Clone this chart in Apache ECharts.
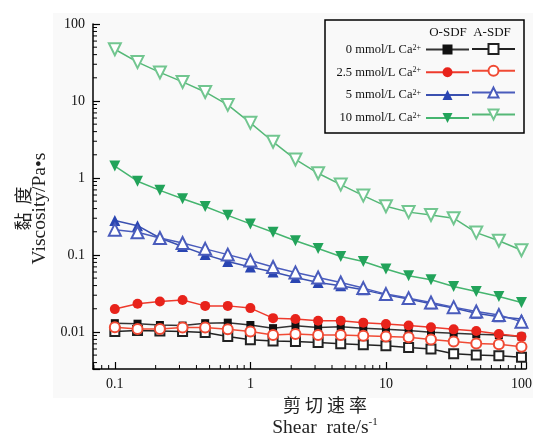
<!DOCTYPE html>
<html><head><meta charset="utf-8">
<script src="https://cdn.jsdelivr.net/npm/echarts@6/dist/echarts.min.js"></script>
<style>html,body{margin:0;padding:0;background:#fff}#c{width:533px;height:434px}</style>
</head><body><div id="c"></div>
<script>
// Shear rate (s^-1)
const shearRate = [0.1,0.147,0.215,0.316,0.464,0.681,1,1.47,2.15,3.16,4.64,6.81,10,14.7,21.5,31.6,46.4,68.1,100];
const concLabels = ['0','2.5','5','10'];
// Viscosity (Pa·s)
const oSDF_0   = [0.0130,0.0128,0.0123,0.0121,0.0130,0.0132,0.0123,0.0112,0.0120,0.0114,0.0117,0.0112,0.0108,0.0104,0.0099,0.0096,0.0093,0.0091,0.0087];
const aSDF_0   = [0.0101,0.0104,0.0103,0.0101,0.0098,0.0087,0.0079,0.0076,0.0075,0.0073,0.0070,0.0068,0.0066,0.0063,0.0060,0.0052,0.0050,0.0049,0.0047];
const oSDF_2_5 = [0.0198,0.0232,0.0248,0.0260,0.0218,0.0218,0.0204,0.0151,0.0147,0.0140,0.0140,0.0132,0.0127,0.0121,0.0115,0.0108,0.0103,0.0094,0.0087];
const aSDF_2_5 = [0.0115,0.0109,0.0109,0.0114,0.0114,0.0108,0.0101,0.0091,0.0094,0.0091,0.0091,0.0089,0.0087,0.0085,0.0080,0.0075,0.0071,0.0069,0.0064];
const oSDF_5   = [0.280,0.240,0.166,0.129,0.101,0.0824,0.0697,0.0600,0.0510,0.0439,0.0398,0.0352,0.0303,0.0267,0.0232,0.0204,0.0175,0.0158,0.0147];
const aSDF_5   = [0.213,0.197,0.166,0.143,0.120,0.101,0.0849,0.0697,0.0593,0.0510,0.0439,0.0371,0.0310,0.0275,0.0241,0.0210,0.0184,0.0166,0.0136];
const oSDF_10  = [1.43,0.908,0.69,0.537,0.426,0.327,0.253,0.197,0.153,0.121,0.0957,0.0824,0.0656,0.0537,0.0476,0.0389,0.0335,0.0288,0.0241];
const aSDF_10  = [47.0,32.0,23.5,17.7,13.1,8.9,5.2,2.95,1.74,1.15,0.82,0.59,0.43,0.36,0.33,0.30,0.195,0.153,0.115];

const xMin = 0.069, xMax = 108, yMin = 0.0033, yMax = 100;
const serif = '"Liberation Serif","Times New Roman",serif';
const cjk = '"Noto Sans CJK SC",sans-serif';

const pairs = d => shearRate.map((x,i)=>[x,d[i]]);
const oNames = concLabels.map(c=>'O-SDF '+c+' mmol/L Ca2+');
const aNames = concLabels.map(c=>'A-SDF '+c+' mmol/L Ca2+');

const styles = [
  {o:{sym:'rect',size:8,color:'#111111',line:'#333333'}, a:{sym:'emptyRect',size:9,color:'#222222',line:'#222222'}},
  {o:{sym:'circle',size:10,color:'#e8231b',line:'#ee3a2c'}, a:{sym:'emptyCircle',size:10,color:'#f04a34',line:'#f04a34'}},
  {o:{sym:'triangle',size:11,color:'#2a45b2',line:'#3a50b0'}, a:{sym:'emptyTriangle',size:12,color:'#4a5cbc',line:'#4a5cbc'}},
  {o:{sym:'triangle',size:11,rot:180,color:'#22a35a',line:'#45b56f'}, a:{sym:'emptyTriangle',size:12,rot:180,color:'#72c690',line:'#55b877'}}
];
const oData = [oSDF_0,oSDF_2_5,oSDF_5,oSDF_10];
const aData = [aSDF_0,aSDF_2_5,aSDF_5,aSDF_10];

function mk(name,data,s){
  return {
    name:name, type:'line', data:pairs(data), symbol:s.sym, symbolSize:s.size,
    symbolRotate:s.rot||0, showAllSymbol:true, animation:false,
    itemStyle:{color:s.color, borderWidth: s.sym.indexOf('empty')===0?1.2:0},
    lineStyle:{color:s.line,width:1.5}, emphasis:{disabled:true}
  };
}
const series = [];
for (let i=0;i<4;i++){ series.push(mk(oNames[i],oData[i],styles[i].o)); }
for (let i=0;i<4;i++){ series.push(mk(aNames[i],aData[i],styles[i].a)); }

const isPow10 = v => Math.abs(Math.log10(v)-Math.round(Math.log10(v)))<1e-6;
const fmtNum = v => { const e=Math.round(Math.log10(v)); return e<0 ? (Math.pow(10,e)).toFixed(-e) : String(Math.pow(10,e)); };

const legendRich = {
  t:{fontFamily:serif,fontSize:12.5,color:'#111',lineHeight:12},
  s:{fontFamily:serif,fontSize:8,color:'#111',lineHeight:8,verticalAlign:'top'}
};

const chart = echarts.init(document.getElementById('c'),null,{renderer:'canvas'});
chart.setOption({
  animation:false,
  backgroundColor:'#ffffff',
  grid:{left:93,right:7,top:24,bottom:65,outerBoundsMode:'none',containLabel:false},
  xAxis:{
    type:'log', min:xMin, max:xMax, logBase:10,
    axisLine:{show:true,onZero:false,lineStyle:{color:'#000',width:1.5}},
    axisTick:{inside:true,length:7,lineStyle:{color:'#000',width:1.2}},
    axisLabel:{margin:8,fontFamily:serif,fontSize:14,color:'#111',
      formatter:v=>isPow10(v)?fmtNum(v):'', showMinLabel:true, showMaxLabel:true},
    splitLine:{show:false},
    name:'{cn|剪 切 速 率}\n{en|Shear  rate/s}{sup|-1}',
    nameLocation:'middle', nameGap:21,
    nameTextStyle:{padding:[0,0,0,31],rich:{
      cn:{fontFamily:cjk,fontSize:18,color:'#222',lineHeight:23},
      en:{fontFamily:serif,fontSize:19.5,color:'#222',lineHeight:23},
      sup:{fontFamily:serif,fontSize:11,color:'#222',lineHeight:12,verticalAlign:'top'}
    }}
  },
  yAxis:{
    type:'log', min:yMin, max:yMax, logBase:10,
    axisLine:{show:true,lineStyle:{color:'#000',width:1.5}},
    axisTick:{inside:true,length:7,lineStyle:{color:'#000',width:1.2}},
    axisLabel:{margin:8,fontFamily:serif,fontSize:14,color:'#111',
      formatter:v=>isPow10(v)?fmtNum(v):''},
    splitLine:{show:false},
    name:'{cn|黏  度}\n{en|Viscosity/Pa•s}',
    nameLocation:'middle', nameRotate:90, nameGap:45,
    nameTextStyle:{padding:[0,24,0,0],rich:{
      cn:{fontFamily:cjk,fontSize:18,color:'#222',lineHeight:16},
      en:{fontFamily:serif,fontSize:19.5,color:'#222',lineHeight:16}
    }}
  },
  legend:[
    {data:oNames, orient:'vertical', align:'right', right:63, top:43, padding:0,
     itemWidth:43, itemHeight:12.5, itemGap:9.8, selectedMode:false,
     formatter:n=>'{t|'+n.replace('O-SDF ','').replace('Ca2+','Ca')+'}{s|2+}',
     textStyle:{rich:legendRich}},
    {data:aNames, orient:'vertical', align:'left', left:471, top:43, padding:0,
     itemWidth:43, itemHeight:12.5, itemGap:9.8, selectedMode:false,
     formatter:()=>'', textStyle:{fontSize:12,lineHeight:12}}
  ],
  series:series
});

// background panel, legend frame, column headers, and minor log ticks
const x0 = chart.convertToPixel({xAxisIndex:0}, xMin);
const y0 = chart.convertToPixel({yAxisIndex:0}, yMin);
const g = [
  {type:'rect',shape:{x:53,y:13,width:480,height:385},style:{fill:'#f9f9f9'},z:-10,silent:true},
  {type:'rect',shape:{x:325,y:20,width:199,height:113},style:{fill:'none',stroke:'#000',lineWidth:1.5},z:100},
  {type:'text',x:448,y:33,style:{text:'O-SDF',font:'13px '+serif,fill:'#111',align:'center',verticalAlign:'middle'},z:100},
  {type:'text',x:492,y:33,style:{text:'A-SDF',font:'13px '+serif,fill:'#111',align:'center',verticalAlign:'middle'},z:100}
];
for (let e=-3;e<=2;e++){
  for (let k=2;k<=9;k++){
    const v=k*Math.pow(10,e);
    if (v>xMin && v<xMax){
      const px = chart.convertToPixel({xAxisIndex:0}, v);
      g.push({type:'line',shape:{x1:px,y1:y0,x2:px,y2:y0-4},style:{stroke:'#000',lineWidth:1},z:50});
    }
    if (v>yMin && v<yMax){
      const py = chart.convertToPixel({yAxisIndex:0}, v);
      g.push({type:'line',shape:{x1:x0,y1:py,x2:x0+4,y2:py},style:{stroke:'#000',lineWidth:1},z:50});
    }
  }
}
chart.setOption({graphic:g});
</script></body></html>
